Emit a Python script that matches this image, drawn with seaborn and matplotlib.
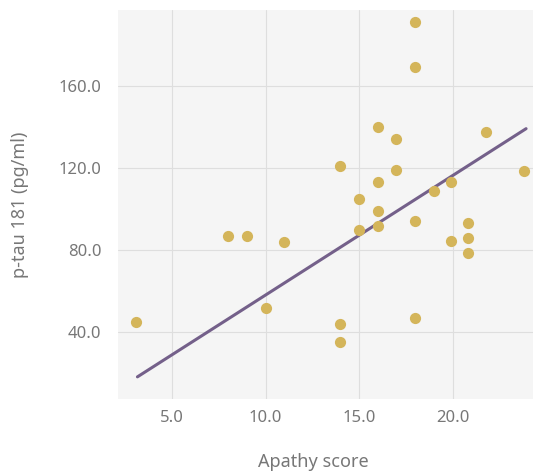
import pandas as pd
import seaborn as sns
import matplotlib.pyplot as plt
from matplotlib.ticker import FormatStrFormatter

# Data
apathy = [18, 18, 16, 17, 21.8, 14, 17, 23.8, 16, 19.9, 19, 15, 16, 18,
          20.8, 15, 16, 8, 9, 11, 19.9, 20.8, 20.8, 10, 3.1, 14, 14, 18]
ptau = [191.2, 169.4, 140.2, 134, 137.7, 121.1, 119.2, 118.5, 113.3, 113.3,
        109.1, 105, 99, 94.3, 93.3, 89.8, 91.7, 87.2, 86.8, 83.9, 84.4, 86,
        78.5, 51.7, 45.2, 43.9, 35.6, 47]

# Fitted line as drawn in the figure (endpoints)
fit_x = [3.15, 23.93]
fit_y = [18.4, 139.2]

x_ticks = [5, 10, 15, 20]
y_ticks = [40, 80, 120, 160]

data = pd.DataFrame({'apathy': apathy, 'ptau': ptau})
fit = pd.DataFrame({'x': fit_x, 'y': fit_y})

sns.set_style('whitegrid', {'axes.facecolor': '#f5f5f5',
                            'grid.color': '#dedede'})
plt.rcParams['font.family'] = ['Noto Sans', 'DejaVu Sans']

fig = plt.figure(figsize=(5.33, 4.72), dpi=100)
ax = fig.add_axes([0.221, 0.155, 0.779, 0.824])

sns.scatterplot(x='apathy', y='ptau', data=data, color='#d4b55a', s=65,
                linewidth=0, ax=ax, zorder=3)
sns.lineplot(x='x', y='y', data=fit, color='#74608a', linewidth=2.2, ax=ax,
             zorder=2)

ax.set_xlim(2.1, 24.3)
ax.set_ylim(7.7, 197)
ax.set_xticks(x_ticks)
ax.set_yticks(y_ticks)
ax.xaxis.set_major_formatter(FormatStrFormatter('%.1f'))
ax.yaxis.set_major_formatter(FormatStrFormatter('%.1f'))
ax.tick_params(axis='both', colors='#777777', labelsize=12, length=0)
ax.tick_params(axis='y', pad=12)
ax.tick_params(axis='x', pad=8)

for s in ax.spines.values():
    s.set_visible(False)

ax.set_xlabel('Apathy score', fontsize=13, color='#777777')
ax.set_ylabel('p-tau 181 (pg/ml)', fontsize=13, color='#777777')
ax.xaxis.set_label_coords(0.472, -0.14)
ax.yaxis.set_label_coords(-0.215, 0.5)

fig.savefig('out.png', dpi=100)
